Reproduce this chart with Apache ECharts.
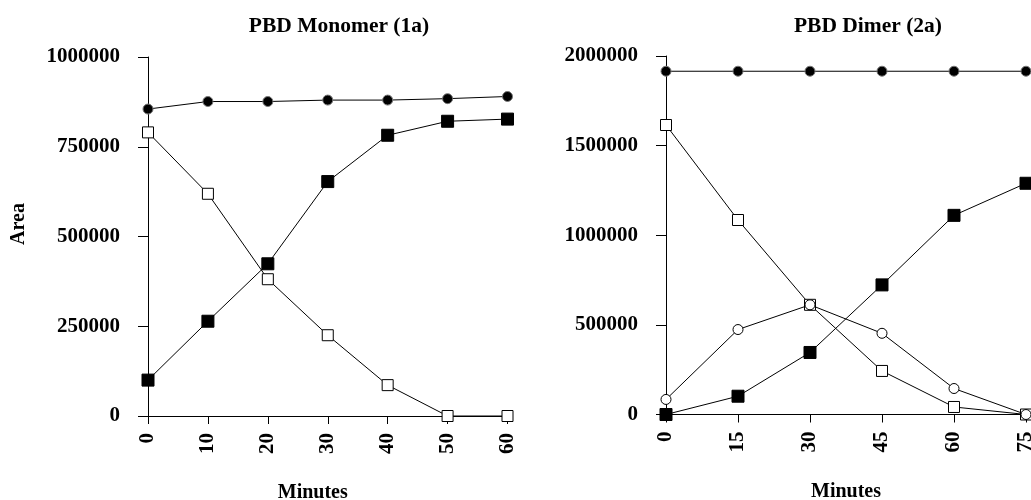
<!DOCTYPE html>
<html>
<head>
<meta charset="utf-8">
<script src="https://cdn.jsdelivr.net/npm/echarts@6/dist/echarts.min.js"></script>
<style>html,body{margin:0;padding:0;background:#fff;}#c{width:1031px;height:500px;}</style>
</head>
<body>
<div id="c"></div>
<script>
// Left chart: PBD Monomer (1a)
var monoMinutes = [0, 10, 20, 30, 40, 50, 60];
var monoTotal = [855000, 876000, 876000, 880000, 880000, 884000, 890000];
var monoOpenSq = [790000, 619000, 381000, 225000, 86000, 0, 0];
var monoFilledSq = [100000, 264000, 424000, 653000, 782000, 821000, 827000];
var monoYTicks = [0, 250000, 500000, 750000, 1000000];

// Right chart: PBD Dimer (2a)
var dimerMinutes = [0, 15, 30, 45, 60, 75];
var dimerTotal = [1915000, 1915000, 1915000, 1915000, 1915000, 1915000];
var dimerOpenSq = [1615000, 1085000, 612000, 243000, 42000, 0];
var dimerOpenCircle = [84000, 474000, 612000, 453000, 145000, 0];
var dimerFilledSq = [0, 102000, 346000, 723000, 1111000, 1290000];
var dimerYTicks = [0, 500000, 1000000, 1500000, 2000000];

var FONT = 'Liberation Serif';
function pairs(xs, ys) { return xs.map(function (x, i) { return [x, ys[i]]; }); }

var axisLineStyle = { color: '#000', width: 1 };
function xAxisCfg(gridIndex, max, interval, namePad) {
  return {
    type: 'value', gridIndex: gridIndex, min: 0, max: max, interval: interval,
    name: 'Minutes', nameLocation: 'middle', nameGap: 67,
    nameTextStyle: { fontFamily: FONT, fontWeight: 'bold', fontSize: 20, color: '#000', padding: namePad },
    axisLine: { show: true, lineStyle: axisLineStyle },
    axisTick: { show: true, length: 8, lineStyle: axisLineStyle },
    axisLabel: { rotate: 90, margin: 17, fontFamily: FONT, fontWeight: 'bold', fontSize: 21, color: '#000' },
    splitLine: { show: false }
  };
}
function yAxisCfg(gridIndex, max, interval) {
  return {
    type: 'value', gridIndex: gridIndex, min: 0, max: max, interval: interval,
    axisLine: { show: true, onZero: false, lineStyle: axisLineStyle },
    axisTick: { show: true, length: 10, lineStyle: axisLineStyle },
    axisLabel: { margin: 28, fontFamily: FONT, fontWeight: 'bold', fontSize: 21, color: '#000',
      formatter: function (v) { return String(v); } },
    splitLine: { show: false }
  };
}
function line(xi, data, symbol, size, fill) {
  return {
    type: 'line', xAxisIndex: xi, yAxisIndex: xi, data: data,
    symbol: symbol, symbolSize: size, showAllSymbol: true, animation: false,
    lineStyle: { color: '#000', width: 1 },
    itemStyle: { color: fill, borderColor: fill === '#000' && symbol === 'circle' ? '#777' : '#000', borderWidth: 1, opacity: 1 }
  };
}

var chart = echarts.init(document.getElementById('c'), null, { renderer: 'canvas' });
chart.setOption({
  backgroundColor: '#fff',
  animation: false,
  title: [
    { text: 'PBD Monomer (1a)', left: 334, top: 10, textAlign: 'center',
      textStyle: { fontFamily: FONT, fontWeight: 'bold', fontSize: 21.5, color: '#000' } },
    { text: 'PBD Dimer (2a)', left: 863, top: 10, textAlign: 'center',
      textStyle: { fontFamily: FONT, fontWeight: 'bold', fontSize: 21.5, color: '#000' } }
  ],
  graphic: [
    { type: 'text', x: 19, y: 224, rotation: Math.PI / 2,
      style: { text: 'Area', fontFamily: FONT, fontWeight: 'bold', fontSize: 20, fill: '#000', align: 'center', verticalAlign: 'middle' } }
  ],
  grid: [
    { left: 148, top: 57, width: 359.5, height: 359, containLabel: false, outerBoundsMode: 'none' },
    { left: 666, top: 56, width: 360, height: 358.5, containLabel: false, outerBoundsMode: 'none' }
  ],
  xAxis: [xAxisCfg(0, 60, 10, [0, 30, 0, 0]), xAxisCfg(1, 75, 15, [0, 0, 0, 0])],
  yAxis: [yAxisCfg(0, 1000000, 250000), yAxisCfg(1, 2000000, 500000)],
  series: [
    line(0, pairs(monoMinutes, monoTotal), 'circle', 10, '#000'),
    line(0, pairs(monoMinutes, monoOpenSq), 'rect', 11, '#fff'),
    line(0, pairs(monoMinutes, monoFilledSq), 'rect', 12, '#000'),
    line(1, pairs(dimerMinutes, dimerTotal), 'circle', 10, '#000'),
    line(1, pairs(dimerMinutes, dimerOpenSq), 'rect', 11, '#fff'),
    line(1, pairs(dimerMinutes, dimerOpenCircle), 'circle', 10, '#fff'),
    line(1, pairs(dimerMinutes, dimerFilledSq), 'rect', 12, '#000')
  ]
});
</script>
</body>
</html>
